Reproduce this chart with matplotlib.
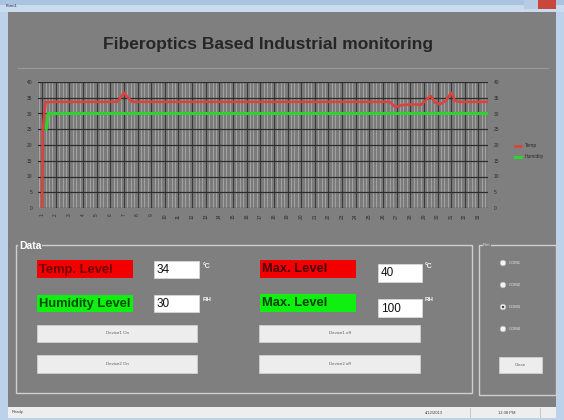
import matplotlib
matplotlib.use("Agg")
import matplotlib.pyplot as plt
from matplotlib.patches import Rectangle, Circle

plt.rcParams['font.family'] = ['Liberation Sans', 'DejaVu Sans']

# ---------------- data ----------------
title = "Fiberoptics Based Industrial monitoring"
temp_x = [0.0, 0.05, 0.25, 1.0, 5.5, 5.75, 6.0, 6.3, 6.6, 25.5, 25.9, 26.3, 27.0, 27.8, 28.2, 28.5, 28.8, 29.2, 29.6, 30.0, 30.3, 30.6, 32.7]
temp_y = [0.0, 25.0, 33.6, 33.7, 33.7, 35.0, 36.6, 35.0, 33.7, 33.7, 32.0, 32.6, 32.9, 32.8, 34.5, 35.6, 33.5, 33.0, 34.0, 36.6, 34.0, 33.7, 33.7]
hum_x = [0.3, 0.45, 32.7]
hum_y = [25.0, 30.0, 30.0]
x_labels = [str(i) for i in range(1, 34)]
y_ticks = [0, 5, 10, 15, 20, 25, 30, 35, 40]
series_names = ["Temp", "Humidity"]
temp_value = "34"
hum_value = "30"
temp_max = "40"
hum_max = "100"
buttons_left = ["Device1 On", "Device2 On"]
buttons_right = ["Device1 off", "Device2 off"]
radio_labels = ["COM1", "COM2", "COM3", "COM4"]
radio_selected = 2

W, H = 564, 420
fig = plt.figure(figsize=(W / 100, H / 100), dpi=100)
fig.patch.set_facecolor("#bcd2ea")

bg = fig.add_axes([0, 0, 1, 1])
bg.set_xlim(0, W)
bg.set_ylim(H, 0)
bg.axis("off")

GRAY = "#7f7f7f"

def rect(x0, y0, x1, y1, fc, ec="none", lw=0.8, z=1):
    bg.add_patch(Rectangle((x0, y0), x1 - x0, y1 - y0, facecolor=fc, edgecolor=ec, linewidth=lw, zorder=z))

# window title bar
rect(0, 0, W, 12, "#c9dbef")
rect(0, 0, W, 5, "#a9c3e1")
rect(524, 0, 538, 9, "#b8cbe2", z=2)
rect(538, 0, 556, 9, "#c9463d", z=2)
bg.text(6, 6, "Form1", fontsize=3, color="#303030", va="center", zorder=3)
# client area
rect(8, 12, 556, 407, GRAY)
# status bar
rect(8, 407, 556, 418, "#eeeeee")
bg.text(12, 412.5, "Ready", fontsize=3, color="#404040", va="center")
bg.text(425, 412.5, "4/12/2013", fontsize=3, color="#404040", va="center")
bg.text(498, 412.5, "12:38 PM", fontsize=3, color="#404040", va="center")
bg.plot([470, 470], [408, 417], color="#c0c0c0", lw=0.6)
bg.plot([540, 540], [408, 417], color="#c0c0c0", lw=0.6)

# title
bg.text(268, 44, title, fontsize=12.5, fontweight="bold", color="#262626", ha="center", va="center")
bg.plot([18, 548], [68, 68], color="#9a9a9a", lw=0.8)

# group boxes
rect(16, 245, 472, 393, "none", ec="#cfcfcf", lw=1.0, z=2)
bg.text(19, 246, "Data", fontsize=7.5, color="white", fontweight="bold", va="center",
        bbox=dict(facecolor=GRAY, edgecolor="none", pad=0.5), zorder=3)
rect(479, 245, 556, 395, "none", ec="#cfcfcf", lw=1.0, z=2)
bg.text(483, 245, "Port", fontsize=3, color="#dddddd", va="center",
        bbox=dict(facecolor=GRAY, edgecolor="none", pad=0.3), zorder=3)

def label_box(x0, y0, x1, y1, fc, tc, text):
    rect(x0, y0, x1, y1, fc, z=3)
    bg.text(x0 + 2, (y0 + y1) / 2 + 0.5, text, fontsize=9.3, fontweight="bold", color=tc,
            va="center", zorder=4)

def text_box(x0, y0, x1, y1, text):
    rect(x0, y0, x1, y1, "white", ec="#d8d8d8", lw=0.6, z=3)
    bg.text(x0 + 3, (y0 + y1) / 2 + 0.5, text, fontsize=8.5, color="#111111", va="center", zorder=4)

label_box(37, 260, 133, 278, "#f20000", "#700000", "Temp. Level")
text_box(154, 261, 199, 278, temp_value)
bg.text(203, 263, "°C", fontsize=5, color="#f4f4f4", fontweight="bold", va="top")
label_box(37, 295, 133, 312, "#10f010", "#004a00", "Humidity Level")
text_box(154, 295, 199, 312, hum_value)
bg.text(203, 297, "RH", fontsize=4.5, color="#f4f4f4", fontweight="bold", va="top")

label_box(260, 260, 356, 278, "#f20000", "#4a0000", "Max. Level")
text_box(378, 264, 422, 282, temp_max)
bg.text(425, 263, "°C", fontsize=5, color="#f4f4f4", fontweight="bold", va="top")
label_box(260, 294, 356, 312, "#10f010", "#004000", "Max. Level")
text_box(378, 299, 422, 317, hum_max)
bg.text(425, 297, "RH", fontsize=4.5, color="#f4f4f4", fontweight="bold", va="top")

def button(x0, y0, x1, y1, text):
    rect(x0, y0, x1, y1, "#ededed", ec="#d0d0d0", lw=0.6, z=3)
    bg.text((x0 + x1) / 2, (y0 + y1) / 2, text, fontsize=3.2, color="#606060",
            ha="center", va="center", zorder=4)

button(37, 325, 197, 342, buttons_left[0])
button(37, 355, 197, 373, buttons_left[1])
button(259, 325, 420, 342, buttons_right[0])
button(259, 355, 420, 373, buttons_right[1])
button(499, 357, 542, 373, "Close")

for i, (lab, ry) in enumerate(zip(radio_labels, [263, 285, 307, 329])):
    bg.add_patch(Circle((503, ry), 2.8, facecolor="#f4f4f4", edgecolor="#bbbbbb", lw=0.5, zorder=3))
    if i == radio_selected:
        bg.add_patch(Circle((503, ry), 1.2, facecolor="#404040", edgecolor="none", zorder=4))
    bg.text(509, ry, lab, fontsize=3, color="#e8e8e8", va="center", zorder=4)

# ---------------- chart ----------------
L, R, T, B = 38, 488, 82, 208
ax = fig.add_axes([L / W, 1 - B / H, (R - L) / W, (B - T) / H])
ax.set_facecolor("#7b7b7b")
ax.set_xlim(-0.3, 32.7)
ax.set_ylim(0, 40)

# vertical grid: light minor + dark major
nx = len(x_labels)
for k in range(nx * 4):
    xv = k * 0.25 - 0.25
    if k % 4 == 1:
        continue
    ax.axvline(xv, color="#adadad", lw=0.55, zorder=1)
for k in range(nx):
    ax.axvline(k, color="#3a3a3a", lw=0.8, zorder=1)
for yv in y_ticks:
    ax.axhline(yv, color="#2c2c2c", lw=0.9, zorder=1)

ax.plot(temp_x, temp_y, color="#e0403a", lw=1.8, zorder=3, label=series_names[0])
ax.plot(hum_x, hum_y, color="#2fd32f", lw=2.2, zorder=2, label=series_names[1])

ax.set_xticks(range(nx))
ax.set_xticklabels(x_labels, rotation=90, fontsize=3.5, color="#2a2a2a")
ax.set_yticks(y_ticks)
ax.set_yticklabels([str(v) for v in y_ticks], fontsize=3.5, color="#2a2a2a")
ax.tick_params(length=0, pad=4)
ax.tick_params(axis="y", labelright=True)
for s in ax.spines.values():
    s.set_visible(False)

ax.legend(loc="center left", bbox_to_anchor=(1.05, 0.45), frameon=False, fontsize=3.5,
          handlelength=1.2, labelcolor="#2a2a2a", labelspacing=1.2)

fig.savefig("out.png", dpi=100, facecolor=fig.get_facecolor())
